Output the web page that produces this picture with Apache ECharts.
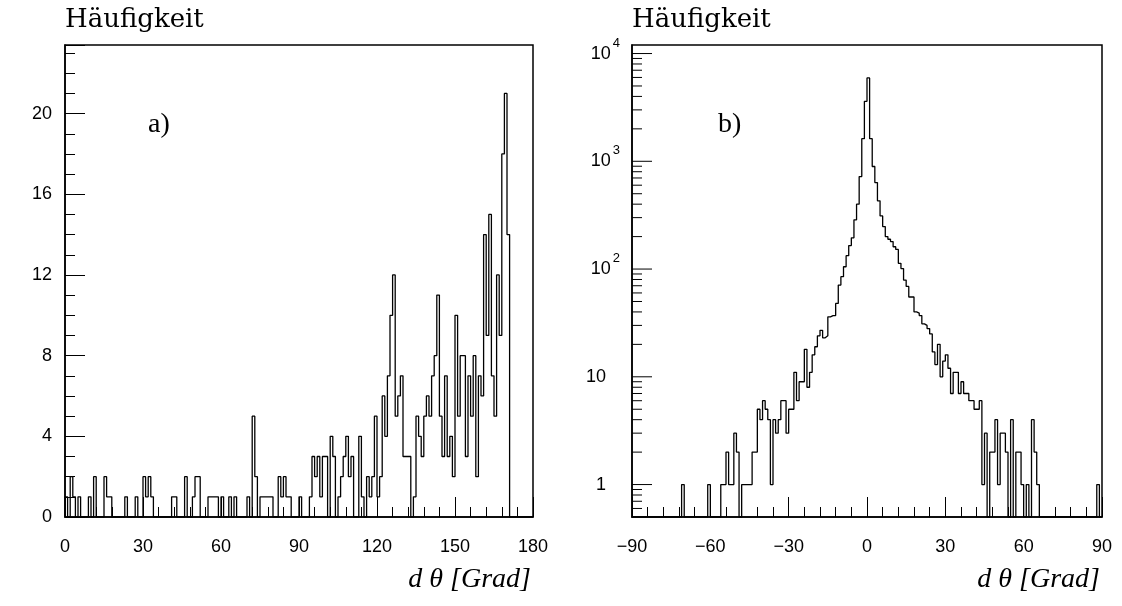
<!DOCTYPE html>
<html><head><meta charset="utf-8">
<script src="https://cdn.jsdelivr.net/npm/echarts@6/dist/echarts.min.js"></script>
<style>html,body{margin:0;padding:0;background:#fff}#c{width:1122px;height:606px}</style>
</head><body><div id="c"></div>
<script>
// ---- data (1-degree bins) ----
const leftBinStart = 0;      // first bin lower edge, panel a)
const leftCounts = [
1,0,2,1,0,1,0,0,0,1,
0,2,0,0,0,2,1,1,0,0,
0,0,0,1,0,0,0,1,0,0,
2,1,2,1,0,0,0,0,0,0,
0,1,1,0,0,0,2,0,0,1,
2,2,0,0,0,1,1,1,1,0,
1,0,0,1,0,1,0,0,0,0,
1,0,5,2,0,1,1,1,1,1,
0,0,2,1,2,1,1,0,0,0,
1,0,0,0,1,3,2,3,1,3,
3,0,4,3,0,1,2,3,4,2,
3,0,0,4,1,0,2,1,2,5,
1,2,6,4,7,10,12,5,6,7,
3,3,3,0,1,5,4,3,5,6,
5,7,8,11,5,3,7,3,4,2,
10,5,8,8,3,7,5,8,2,7,
6,14,9,15,7,5,12,9,18,21,
14,0,0,0,0,0,0,0,0,0
];
const rightBinStart = -90;   // first bin lower edge, panel b)
const rightCounts = [
0,0,0,0,0,0,0,0,0,0,
0,0,0,0,0,0,0,0,0,1,
0,0,0,0,0,0,0,0,0,1,
0,0,0,0,1,1,2,1,1,3,
2,0,1,1,1,1,2,2,5,4,
6,5,4,1,4,3,4,6,6,3,
5,5,11,6,9,9,18,8,11,16,
19,24,27,23,24,36,37,37,48,71,
85,105,133,165,195,286,400,722,1620,3600,
5940,1620,895,635,430,311,248,200,189,180,
161,152,113,101,79,69,55,55,40,39,
37,31,30,28,25,17,13,20,10,14,
16,12,7,11,11,7,9,7,7,6,
6,5,5,6,1,3,0,2,2,4,
1,3,3,2,0,4,0,2,2,1,
0,1,0,4,2,1,0,0,0,0,
0,0,0,0,0,0,0,0,0,0,
0,0,0,0,0,0,0,0,1,0
];
const binWidth = 1;
const leftXTicks = [0, 30, 60, 90, 120, 150, 180];
const leftYTicks = [0, 4, 8, 12, 16, 20];
const rightXTicks = [-90, -60, -30, 0, 30, 60, 90];
const rightYDecades = [1, 10, 100, 1000, 10000];
const yTitle = 'Häufigkeit';
const xTitle = 'd θ [Grad]';
const panelLabels = ['a)', 'b)'];

// ---- helpers ----
const LEFT_YMAX = 23.4, RIGHT_YMIN = 0.5, RIGHT_YMAX = 12000;
function outline(start, counts, floor) {
  const pts = [[start, floor]];
  counts.forEach((c, i) => {
    const v = c > 0 ? c : floor;
    const x0 = start + i * binWidth, x1 = x0 + binWidth;
    pts.push([x0, v], [x1, v]);
  });
  pts.push([start + counts.length * binWidth, floor]);
  return pts;
}
const logTicks = [];
for (let e = -1; e <= 4; e++) {
  for (let m = 1; m <= 9; m++) {
    const v = m * Math.pow(10, e);
    if (v > RIGHT_YMIN && v < RIGHT_YMAX) logTicks.push([rightXTicks[0], v, m === 1 ? 1 : 0]);
  }
}
const black = '#000';
const tickFont = 'Liberation Sans';
const titleFont = '26px "DejaVu Serif"';
const panelFont = '28px "Liberation Serif"';
const xTitleFont = 'italic 28px "Liberation Serif"';

function xAxisCfg(grid, ticks) {
  return {
    gridIndex: grid, type: 'value', min: ticks[0], max: ticks[ticks.length - 1], interval: 30,
    axisLine: { show: true, onZero: false, lineStyle: { color: black, width: 1.5 } },
    axisTick: { show: true, inside: true, length: 20, lineStyle: { color: black, width: 1 } },
    minorTick: { show: true, splitNumber: 5, length: 10, lineStyle: { color: black, width: 1 } },
    splitLine: { show: false },
    axisLabel: { color: black, fontSize: 18, fontFamily: tickFont, margin: 21,
      formatter: v => String(v).replace('-', '\u2212') }
  };
}

const option = {
  animation: false,
  backgroundColor: '#fff',
  grid: [
    { left: 65, top: 45, width: 468, height: 472, show: true, borderColor: black, borderWidth: 1.5, backgroundColor: 'transparent' },
    { left: 632, top: 45, width: 470, height: 472, show: true, borderColor: black, borderWidth: 1.5, backgroundColor: 'transparent' }
  ],
  xAxis: [ xAxisCfg(0, leftXTicks), xAxisCfg(1, rightXTicks) ],
  yAxis: [
    { gridIndex: 0, type: 'value', min: leftYTicks[0], max: LEFT_YMAX, interval: 4,
      axisLine: { show: true, onZero: false, lineStyle: { color: black, width: 1.5 } },
      axisTick: { show: true, inside: true, length: 20, lineStyle: { color: black, width: 1 } },
      minorTick: { show: true, splitNumber: 4, length: 10, lineStyle: { color: black, width: 1 } },
      splitLine: { show: false },
      axisLabel: { color: black, fontSize: 18, fontFamily: tickFont, margin: 13,
        formatter: v => (leftYTicks.indexOf(v) >= 0 ? String(v) : '') } },
    { gridIndex: 1, type: 'log', logBase: 10, min: RIGHT_YMIN, max: RIGHT_YMAX,
      axisLine: { show: true, onZero: false, lineStyle: { color: black, width: 1.5 } },
      axisTick: { show: false }, minorTick: { show: false }, splitLine: { show: false },
      axisLabel: { margin: 12, showMinLabel: false, showMaxLabel: false,
        formatter: v => {
          const e = Math.round(Math.log10(v));
          if (Math.abs(Math.log10(v) - e) > 1e-6 || rightYDecades.indexOf(Math.pow(10, e)) < 0) return '';
          if (e === 0) return '{c|1}';
          if (e === 1) return '{c|10}';
          return '{b|10}{s|' + e + '}';
        },
        rich: {
          b: { fontSize: 18, fontFamily: tickFont, color: black, lineHeight: 34 },
          c: { fontSize: 18, fontFamily: tickFont, color: black, lineHeight: 34, padding: [0, 14, 0, 0] },
          s: { fontSize: 13, fontFamily: tickFont, color: black, lineHeight: 16, verticalAlign: 'top', padding: [0, 0, 0, 2] }
        } } }
  ],
  series: [
    { type: 'line', xAxisIndex: 0, yAxisIndex: 0, data: outline(leftBinStart, leftCounts, 0),
      showSymbol: false, symbol: 'none', lineStyle: { color: black, width: 1.3 }, silent: true },
    { type: 'line', xAxisIndex: 1, yAxisIndex: 1, data: outline(rightBinStart, rightCounts, RIGHT_YMIN),
      showSymbol: false, symbol: 'none', lineStyle: { color: black, width: 1.3 }, silent: true },
    { type: 'custom', xAxisIndex: 1, yAxisIndex: 1, data: logTicks, silent: true, clip: false,
      renderItem: (params, api) => {
        const p = api.coord([api.value(0), api.value(1)]);
        const len = api.value(2) ? 20 : 10;
        return { type: 'line', shape: { x1: p[0], y1: p[1], x2: p[0] + len, y2: p[1] },
                 style: { stroke: black, lineWidth: 1 } };
      } }
  ],
  graphic: [
    { type: 'text', x: 65, y: 20, style: { text: yTitle, font: titleFont, fill: black, textAlign: 'left', textVerticalAlign: 'middle' } },
    { type: 'text', x: 632, y: 20, style: { text: yTitle, font: titleFont, fill: black, textAlign: 'left', textVerticalAlign: 'middle' } },
    { type: 'text', x: 148, y: 125, style: { text: panelLabels[0], font: panelFont, fill: black, textAlign: 'left', textVerticalAlign: 'middle' } },
    { type: 'text', x: 718, y: 125, style: { text: panelLabels[1], font: panelFont, fill: black, textAlign: 'left', textVerticalAlign: 'middle' } },
    { type: 'text', x: 531, y: 580, style: { text: xTitle, font: xTitleFont, fill: black, textAlign: 'right', textVerticalAlign: 'middle' } },
    { type: 'text', x: 1100, y: 580, style: { text: xTitle, font: xTitleFont, fill: black, textAlign: 'right', textVerticalAlign: 'middle' } }
  ]
};
const chart = echarts.init(document.getElementById('c'), null, { renderer: 'canvas' });
chart.setOption(option);
</script>
</body></html>
